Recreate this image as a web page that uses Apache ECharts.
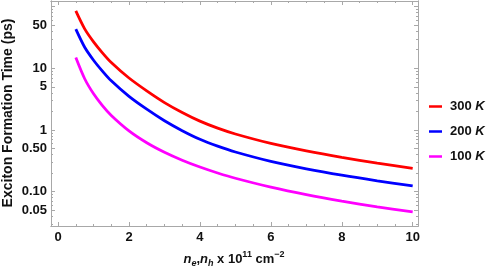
<!DOCTYPE html>
<html>
<head>
<meta charset="utf-8">
<script src="https://cdn.jsdelivr.net/npm/echarts@6/dist/echarts.min.js"></script>
<style>html,body{margin:0;padding:0;background:#fff}#c{width:491px;height:267px}</style>
</head>
<body>
<div id="c"></div>
<script>
const xValues = [0.5, 0.75, 1, 1.25, 1.5, 2, 2.5, 3, 3.5, 4, 4.5, 5, 6, 7, 8, 9, 10];
const t300 = [85, 43.5, 26.8, 17.8, 12.4, 6.95, 4.3, 2.78, 1.92, 1.39, 1.07, 0.86, 0.605, 0.458, 0.36, 0.291, 0.239];
const t200 = [43, 21.9, 13.5, 9.0, 6.25, 3.5, 2.17, 1.41, 0.975, 0.707, 0.547, 0.44, 0.31, 0.235, 0.185, 0.15, 0.124];
const t100 = [14.9, 6.76, 3.85, 2.48, 1.72, 0.968, 0.622, 0.436, 0.324, 0.251, 0.201, 0.165, 0.1184, 0.0894, 0.0703, 0.0568, 0.047];
const seriesNames = ['300 K', '200 K', '100 K'];
const seriesColors = ['#ff0000', '#0000ff', '#ff00ff'];
const xMajorTicks = [0, 2, 4, 6, 8, 10];
const xMinorTicks = [0.5, 1, 1.5, 2.5, 3, 3.5, 4.5, 5, 5.5, 6.5, 7, 7.5, 8.5, 9, 9.5];
const yMajorTicks = [0.05, 0.1, 0.5, 1, 5, 10, 50, 100];
const yLabelTicks = [0.05, 0.1, 0.5, 1, 5, 10, 50];
const yMinorTicks = [0.03, 0.04, 0.06, 0.07, 0.08, 0.09, 0.2, 0.3, 0.4, 0.6, 0.7, 0.8, 0.9,
  2, 3, 4, 6, 7, 8, 9, 20, 30, 40, 60, 70, 80, 90];

const XMIN = -0.2, XMAX = 10.15, YMIN = 0.0278, YMAX = 123;
const frameColor = '#a8a8a8';
const labelFont = {fontFamily: 'Liberation Sans', fontWeight: 'bold', fontSize: 13, color: '#111'};

function xAxisDef(pos, ticks, len, labels) {
  return {
    type: 'value', position: pos, min: XMIN, max: XMAX,
    axisLine: {show: true, onZero: false, lineStyle: {color: frameColor, width: 1}},
    axisTick: {show: true, inside: true, length: len, customValues: ticks, lineStyle: {color: frameColor}},
    axisLabel: labels ? Object.assign({show: true, customValues: xMajorTicks, margin: 5}, labelFont) : {show: false},
    splitLine: {show: false}
  };
}
function yAxisDef(pos, ticks, len, labels) {
  return {
    type: 'log', logBase: 10, position: pos, min: YMIN, max: YMAX,
    axisLine: {show: true, onZero: false, lineStyle: {color: frameColor, width: 1}},
    axisTick: {show: true, inside: true, length: len, customValues: ticks, lineStyle: {color: frameColor}},
    axisLabel: labels ? Object.assign({show: true, customValues: yLabelTicks, margin: 4,
      formatter: v => (v >= 1 ? String(Math.round(v)) : v.toFixed(2))}, labelFont) : {show: false},
    splitLine: {show: false}, minorTick: {show: false}
  };
}

const chart = echarts.init(document.getElementById('c'), null, {renderer: 'canvas'});
chart.setOption({
  animation: false,
  backgroundColor: '#fff',
  grid: {left: 51, right: 73, top: 1, bottom: 41, containLabel: false},
  xAxis: [
    xAxisDef('bottom', xMajorTicks, 4, true),
    xAxisDef('bottom', xMinorTicks, 2, false),
    xAxisDef('top', xMajorTicks, 4, false),
    xAxisDef('top', xMinorTicks, 2, false)
  ],
  yAxis: [
    yAxisDef('left', yMajorTicks, 4, true),
    yAxisDef('left', yMinorTicks, 2, false),
    yAxisDef('right', yMajorTicks, 4, false),
    yAxisDef('right', yMinorTicks, 2, false)
  ],
  legend: {
    orient: 'vertical', left: 429, top: 100, itemGap: 12, padding: 0,
    itemWidth: 13, itemHeight: 2.5, icon: 'rect',
    data: seriesNames,
    formatter: name => '{a|' + name.split(' ')[0] + ' }{b|' + name.split(' ')[1] + '}',
    textStyle: {
      padding: [0, 0, 0, 3],
      rich: {
        a: {fontFamily: 'Liberation Sans', fontWeight: 'bold', fontSize: 13, color: '#111'},
        b: {fontFamily: 'Liberation Sans', fontWeight: 'bold', fontStyle: 'italic', fontSize: 13, color: '#111'}
      }
    }
  },
  graphic: [
    {type: 'text', x: 8.5, y: 113, rotation: Math.PI / 2,
     style: {text: 'Exciton Formation Time (ps)', align: 'center', verticalAlign: 'middle',
       font: 'bold 14px "Liberation Sans"', fill: '#111'}},
    {type: 'text', x: 234, y: 259,
     style: {
       text: '{i|n}{is|e}{n|,}{i|n}{is|h}{n| x 10}{sp|11}{n| cm}{sp|\u22122}',
       align: 'center', verticalAlign: 'middle',
       rich: {
         i: {fontFamily: 'Liberation Sans', fontWeight: 'bold', fontStyle: 'italic', fontSize: 13, lineHeight: 18, verticalAlign: 'middle', fill: '#111'},
         n: {fontFamily: 'Liberation Sans', fontWeight: 'bold', fontSize: 13, lineHeight: 18, verticalAlign: 'middle', fill: '#111'},
         is: {fontFamily: 'Liberation Sans', fontWeight: 'bold', fontStyle: 'italic', fontSize: 9, lineHeight: 10, verticalAlign: 'bottom', fill: '#111'},
         sp: {fontFamily: 'Liberation Sans', fontWeight: 'bold', fontSize: 9, lineHeight: 10, verticalAlign: 'top', fill: '#111'}
       }
     }}
  ],
  series: [t300, t200, t100].map((vals, k) => ({
    name: seriesNames[k], type: 'line', xAxisIndex: 0, yAxisIndex: 0,
    data: xValues.map((x, i) => [x, vals[i]]),
    smooth: 0.3, showSymbol: false, symbol: 'none',
    lineStyle: {color: seriesColors[k], width: 2.8},
    itemStyle: {color: seriesColors[k]}
  }))
});
</script>
</body>
</html>
